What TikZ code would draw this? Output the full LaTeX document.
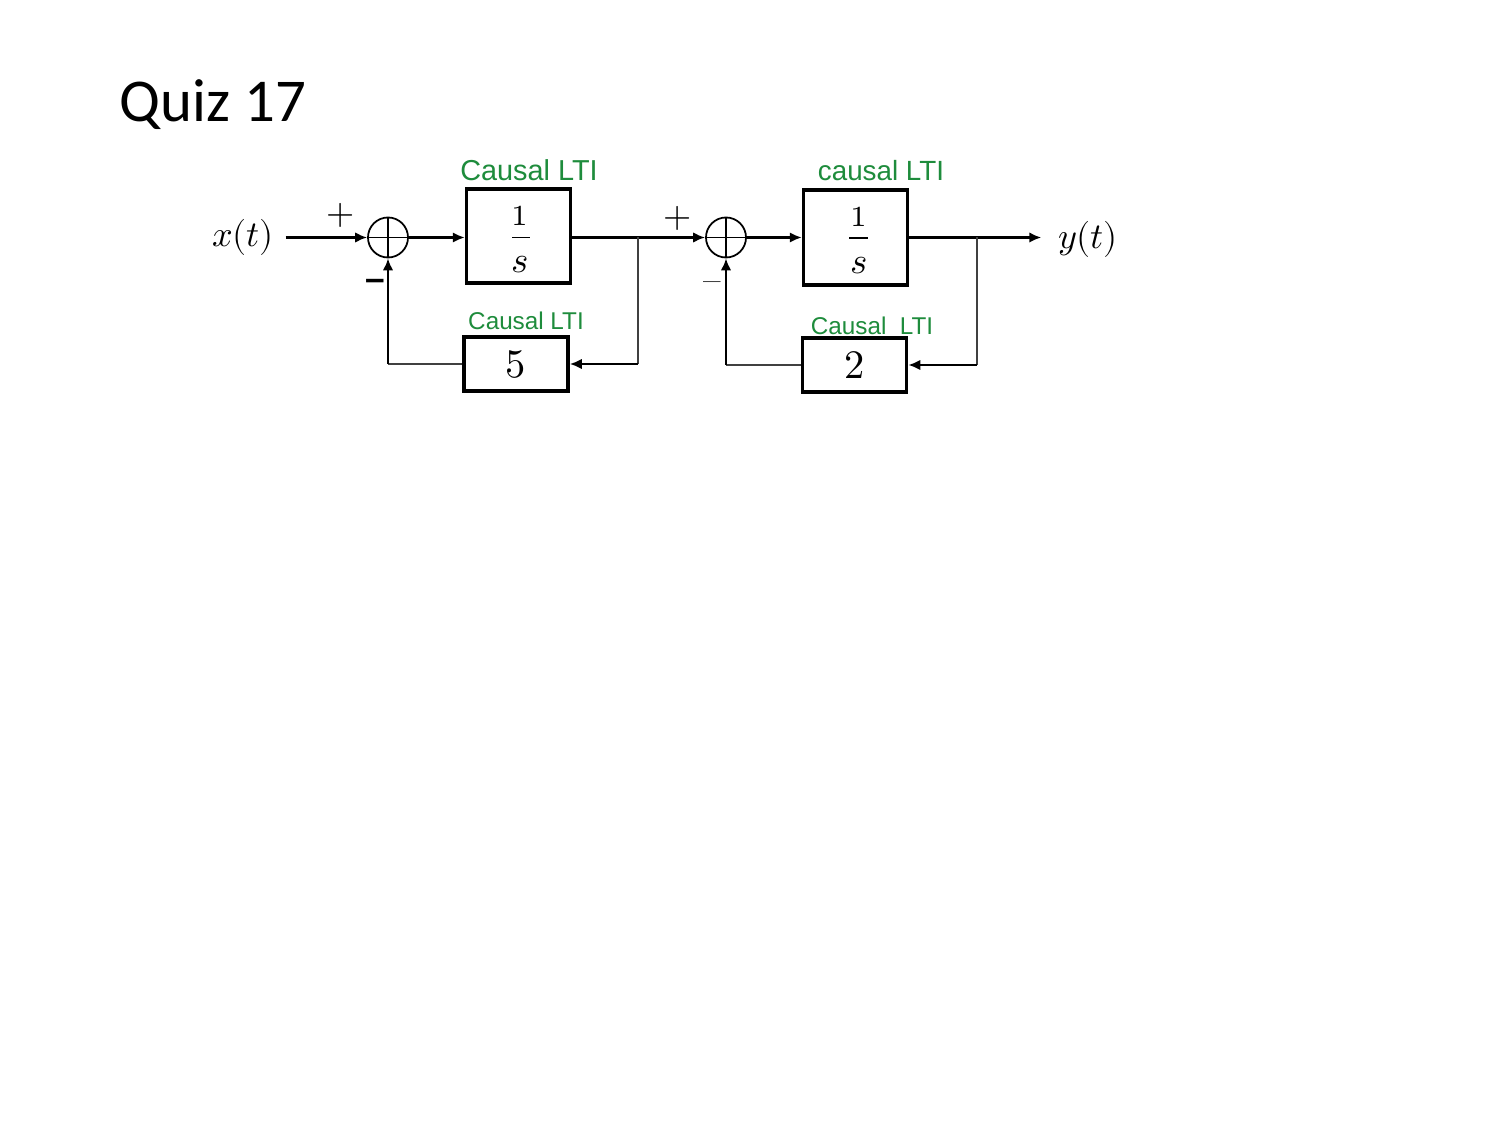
\documentclass[tikz,border=0pt]{standalone}
\usepackage{fontspec}
\usepackage{unicode-math}
\setmathfont{Latin Modern Math}
\newfontfamily\titlefont{Carlito}
\newfontfamily\handfont{Liberation Sans}
\usetikzlibrary{arrows.meta}
\definecolor{handgreen}{RGB}{30,140,60}
\begin{document}
\begin{tikzpicture}[x=0.01cm,y=-0.01cm,
  sig/.style={line width=0.65pt},
  fine/.style={line width=0.35pt,draw=black!75},
  arr/.style={-{Latex[length=3.4pt,width=3pt]}},
  blockbox/.style={draw,line width=1pt,inner sep=0pt,minimum width=1.04cm},
  sumnode/.style={draw,circle,line width=0.5pt,minimum size=0.40cm,inner sep=0pt,
    path picture={\draw[line width=0.5pt]
      (path picture bounding box.north) -- (path picture bounding box.south)
      (path picture bounding box.west) -- (path picture bounding box.east);}},
  lti/.style={text=handgreen,inner sep=0pt},
  mlbl/.style={inner sep=0pt,font=\fontsize{10.3}{12}\selectfont},
  numlbl/.style={inner sep=0pt,font=\fontsize{8.3}{10}\selectfont},
  denlbl/.style={inner sep=0pt,font=\fontsize{10.5}{12}\selectfont},
  gainlbl/.style={inner sep=0pt,font=\fontsize{11.5}{13}\selectfont}
]
\useasboundingbox[fill=white] (0,0) rectangle (1500,1125);

% title
\node[anchor=base west,inner sep=0pt,font=\titlefont\fontsize{17.3}{20}\selectfont] (title) at (119,122) {Quiz 17};

% input / output labels
\node[mlbl] (xin) at (243,237.5) {$x(t)$};
\node[mlbl] (yout) at (1088,239.5) {$y(t)$};

% summing junctions
\node[sumnode] (s1) at (388,237.5) {};
\node[sumnode] (s2) at (726,237.5) {};

% forward blocks
\node[blockbox,minimum height=0.94cm] (b1) at (518.5,236) {};
\node[numlbl] (b1n) at (520,216) {$1$};
\node[denlbl] (b1d) at (520,265) {$s$};
\coordinate (b1bl) at (512,237.5);
\coordinate (b1br) at (530,237.5);
\draw[line width=0.5pt] (b1bl) -- (b1br);

\node[blockbox,minimum height=0.95cm] (b3) at (855.5,237.5) {};
\node[numlbl] (b3n) at (859,217) {$1$};
\node[denlbl] (b3d) at (859,266) {$s$};
\coordinate (b3bl) at (849,238);
\coordinate (b3br) at (868,238);
\draw[line width=0.5pt] (b3bl) -- (b3br);

% feedback blocks
\node[blockbox,minimum height=0.54cm] (b5) at (516,364) {};
\node[gainlbl] at (b5) {$5$};
\node[blockbox,minimum height=0.54cm] (b2) at (854.5,365) {};
\node[gainlbl] at (b2) {$2$};

% green labels
\node[lti,font=\handfont\fontsize{8.2}{9}\selectfont] (l1) at (529,170) {Causal LTI};
\node[lti,font=\handfont\fontsize{7.9}{9}\selectfont] (l3) at (881,171) {causal LTI};
\node[lti,font=\handfont\fontsize{6.9}{8}\selectfont] (l5) at (526,321) {Causal LTI};
\node[lti,font=\handfont\fontsize{6.9}{8}\selectfont] (l2) at (872,326) {Causal\ \ LTI};

% signs
\node[mlbl] (p1) at (341,215) {$+$};
\node[anchor=base,inner sep=0pt,font=\handfont\bfseries\fontsize{10}{12}\selectfont] (m1) at (375,291) {–};
\node[anchor=base,inner sep=0pt,font=\fontsize{10}{12}\selectfont] (m2) at (712,292) {--};
\node[mlbl] (p2) at (678,218) {$+$};

% branch points
\coordinate (c1) at (638,237.5);
\coordinate (c2) at (977,237.5);

% forward path
\draw[sig,arr] ([xshift=0.11cm]xin.east) -- (s1.west);
\draw[sig,arr] (s1.east) -- (s1.east -| b1.west);
\draw[sig,arr] (s1.east -| b1.east) -- (s2.west);
\draw[sig,arr] (s2.east) -- (b3.west);
\draw[sig,arr] (b3.east) -- ([xshift=-0.16cm]yout.west |- b3.east);

% feedback loops
\draw[fine] (c1) -- (c1 |- b5.east);
\draw[sig,arr] (c1 |- b5.east) -- (b5.east);
\draw[fine] (b5.west) -- (b5.west -| s1.south);
\draw[sig,arr] (b5.west -| s1.south) -- (s1.south);

\draw[fine] (c2) -- (c2 |- b2.east);
\draw[sig,arr] (c2 |- b2.east) -- (b2.east);
\draw[fine] (b2.west) -- (b2.west -| s2.south);
\draw[sig,arr] (b2.west -| s2.south) -- (s2.south);
\end{tikzpicture}
\end{document}
